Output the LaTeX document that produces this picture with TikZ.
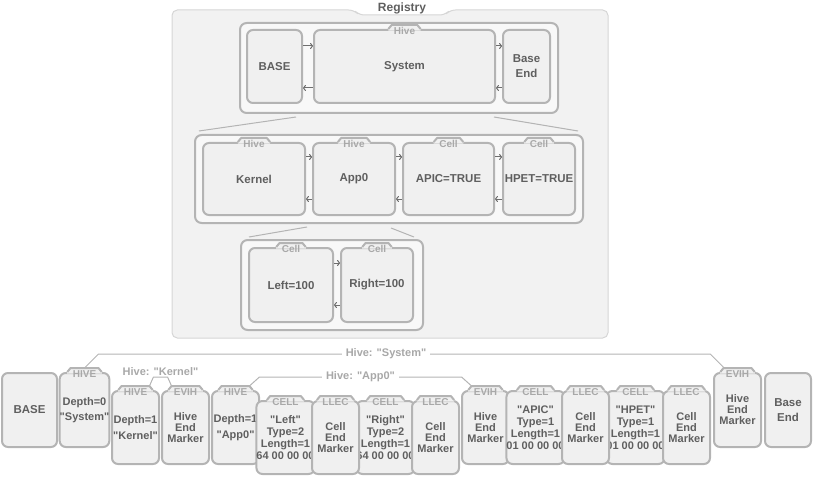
\documentclass[tikz,border=0pt]{standalone}
\usepackage{fontspec}
\setmainfont{Liberation Sans}
\usetikzlibrary{arrows.meta,calc}

\definecolor{boxgrey}{HTML}{B4B4B4}
\definecolor{boxfill}{HTML}{F0F0F0}
\definecolor{hivefill}{HTML}{F8F8F8}
\definecolor{regfill}{HTML}{F2F2F2}
\definecolor{regline}{HTML}{D6D6D6}
\definecolor{textgrey}{HTML}{5F5F5F}
\definecolor{tabgrey}{HTML}{A8A8A8}
\definecolor{labelgrey}{HTML}{A8A8A8}
\definecolor{arrowgrey}{HTML}{6E6E6E}

\newcommand{\qt}{\textquotedbl}

\tikzset{
  box/.style={draw=boxgrey, line width=1.5pt, fill=boxfill, rounded corners=4.5pt,
    text=textgrey, align=center, inner sep=0pt, font=\fontsize{8.6}{10}\selectfont\bfseries},
  lowbox/.style={box, font=\fontsize{8.25}{8.25}\selectfont\bfseries},
  hivebox/.style={draw=boxgrey, line width=1.5pt, fill=hivefill, rounded corners=5pt},
  tabtext/.style={inner xsep=4pt, inner ysep=1pt, text height=5.6pt, text depth=0pt,
    text=tabgrey, font=\fontsize{7.5}{8}\selectfont\bfseries},
  tabline/.style={draw=boxgrey, line width=1.5pt, line join=round},
  arr/.style={draw=arrowgrey, line width=0.75pt, -{To[length=2.2pt,width=4.5pt]}},
  fanline/.style={draw=boxgrey, line width=0.75pt},
  bracket/.style={draw=boxgrey, line width=0.75pt},
  hivelabel/.style={fill=white, text=labelgrey, inner xsep=3pt, inner ysep=1pt,
    font=\fontsize{8.25}{9}\selectfont\bfseries},
  reglabel/.style={text=textgrey, font=\fontsize{9}{10}\selectfont\bfseries}
}

% box with a raised tab on its top edge: [style]{name}{x}{y}{w}{h}{tab}{text}
\newcommand{\tabbox}[8][box]{%
  \node[#1, minimum width=#5*0.75pt, minimum height=#6*0.75pt] (#2) at (#3+#5/2, #4+#6/2) {#8};
  \if\relax\detokenize{#7}\relax\else
    \path (#2.north) node[tabtext, text opacity=0, yshift=-1pt] (#2-tab) {#7};
    \fill[boxfill] (#2-tab.west |- #2.north) -- ([xshift=2.5pt]#2-tab.north west)
      -- ([xshift=-2.5pt]#2-tab.north east) -- (#2-tab.east |- #2.north)
      -- ([yshift=-1.2pt]#2-tab.east |- #2.north) -- ([yshift=-1.2pt]#2-tab.west |- #2.north) -- cycle;
    \draw[tabline] (#2-tab.west |- #2.north) -- ([xshift=2.5pt]#2-tab.north west)
      -- ([xshift=-2.5pt]#2-tab.north east) -- (#2-tab.east |- #2.north);
    \node[tabtext] at (#2-tab) {#7};
  \fi}

\begin{document}
\begin{tikzpicture}[x=0.75pt, y=-0.75pt]
  \useasboundingbox (0,0) rectangle (813,481);

  % registry frame
  \draw[draw=regline, fill=regfill, line width=0.75pt, rounded corners=4pt]
    (172,338) -- (172,10) -- (354,10) -- (359,15) -- (445,15) -- (450,10)
    -- (608,10) -- (608,338) -- cycle;
  \node[reglabel] (registry) at (402,8) {Registry};

  % hive containers
  \tabbox[hivebox]{hive0}{240}{23}{318}{90}{}{}
  \tabbox[hivebox]{hive1}{195}{135}{388}{88}{}{}
  \tabbox[hivebox]{hive2}{241}{240}{182}{90}{}{}

  % level 0
  \tabbox{base}{247}{30}{55}{73}{}{BASE}
  \tabbox{system}{314}{30}{181}{73}{Hive}{System}
  \tabbox{baseend}{503}{30}{47}{73}{}{Base\\[1.2pt]End}
  \foreach \a/\b in {base/system, system/baseend}
  {
    \draw[arr] ([yshift=-12.75pt]\a.north east) -- ([yshift=-12.75pt]\b.north west);
    \draw[arr] ([yshift=12pt]\b.south west) -- ([yshift=12pt]\a.south east);
  }

  % level 1
  \tabbox{kernel}{203}{143}{102}{72}{Hive}{Kernel}
  \tabbox{app}{313}{143}{82}{72}{Hive}{App0}
  \tabbox{apic}{403}{143}{91}{72}{Cell}{APIC=TRUE}
  \tabbox{hpet}{503}{143}{72}{72}{Cell}{HPET=TRUE}
  \foreach \a/\b in {kernel/app, app/apic, apic/hpet}
  {
    \draw[arr] ([yshift=-11.25pt]\a.north east) -- ([yshift=-11.25pt]\b.north west);
    \draw[arr] ([yshift=12.75pt]\b.south west) -- ([yshift=12.75pt]\a.south east);
  }

  % level 2
  \tabbox{left}{249}{248}{84}{74}{Cell}{Left=100}
  \tabbox{right}{341}{248}{72}{74}{Cell}{Right=100}
  \draw[arr] ([yshift=-12pt]left.north east) -- ([yshift=-12pt]right.north west);
  \draw[arr] ([yshift=13.5pt]right.south west) -- ([yshift=13.5pt]left.south east);

  % fans down to the expanded hive
  \draw[fanline] ($(system.south west)+(-17,13)$) -- ($(hive1.north west)+(5,-3)$);
  \draw[fanline] ($(system.south east)+(-2,13)$) -- ($(hive1.north east)+(-6,-3)$);
  \draw[fanline] ($(app.south west)+(-5,11)$) -- ($(hive2.north west)+(9,-2)$);
  \draw[fanline] ($(app.south east)+(-5,12)$) -- ($(hive2.north east)+(-10,-2)$);

  % on-disk layout
  \tabbox{b-base}{2}{373}{55}{74}{}{BASE}
  \tabbox[lowbox]{b-hive0}{61}{373}{47}{74}{HIVE}{Depth=0\\[3pt]\qt System\qt}
  \tabbox[lowbox]{b-hive1}{112}{391}{47}{73}{HIVE}{Depth=1\\[3.75pt]\qt Kernel\qt}
  \tabbox[lowbox]{b-evih1}{162}{391}{47}{73}{EVIH}{Hive\\End\\Marker}
  \tabbox[lowbox]{b-hive2}{212}{391}{47}{73}{HIVE}{Depth=1\\[3.75pt]\qt App0\qt}
  \tabbox[lowbox]{b-cell1}{262}{401}{47}{73}{CELL}{\qt Left\qt\\[0.75pt]Type=2\\[0.75pt]Length=1\\[0.75pt]64 00 00 00}
  \tabbox[lowbox]{b-cell2}{362}{401}{47}{73}{CELL}{\qt Right\qt\\[0.75pt]Type=2\\[0.75pt]Length=1\\[0.75pt]64 00 00 00}
  \tabbox[lowbox]{b-evih2}{462}{391}{47}{73}{EVIH}{Hive\\End\\Marker}
  \tabbox[lowbox]{b-cell3}{512}{391}{47}{73}{CELL}{\qt APIC\qt\\[0.75pt]Type=1\\[0.75pt]Length=1\\[0.75pt]01 00 00 00}
  \tabbox[lowbox]{b-cell4}{612}{391}{47}{73}{CELL}{\qt HPET\qt\\[0.75pt]Type=1\\[0.75pt]Length=1\\[0.75pt]01 00 00 00}
  \foreach \i/\x/\y in {1/312/401, 2/412/401, 3/562/391, 4/663/391}
  {
    \tabbox[lowbox]{b-llec\i}{\x}{\y}{47}{73}{LLEC}{Cell\\End\\Marker}
  }
  \tabbox[lowbox]{b-evih0}{714}{373}{47}{74}{EVIH}{Hive\\End\\Marker}
  \tabbox{b-baseend}{765}{373}{46}{74}{}{Base\\[1.2pt]End}

  % hive spans
  \draw[bracket] (b-hive0-tab.north) -- ++(14,-14)
    -- node[hivelabel, pos=0.47] {Hive: \qt System\qt} ($([xshift=3pt]b-evih0-tab.north west)+(-14,-14)$)
    -- ([xshift=3pt]b-evih0-tab.north west);
  \draw[bracket] ([xshift=-2.5pt]b-hive1-tab.north east) -- ++(4,-9)
    -- node[hivelabel, above, fill=none] {Hive: \qt Kernel\qt} ($([xshift=2.5pt]b-evih1-tab.north west)+(-4,-9)$)
    -- ([xshift=2.5pt]b-evih1-tab.north west);
  \draw[bracket] ([xshift=-2.5pt]b-hive2-tab.north east) -- ++(10,-9)
    -- node[hivelabel] {Hive: \qt App0\qt} ($([xshift=2.5pt]b-evih2-tab.north west)+(-10,-9)$)
    -- ([xshift=2.5pt]b-evih2-tab.north west);
\end{tikzpicture}
\end{document}
